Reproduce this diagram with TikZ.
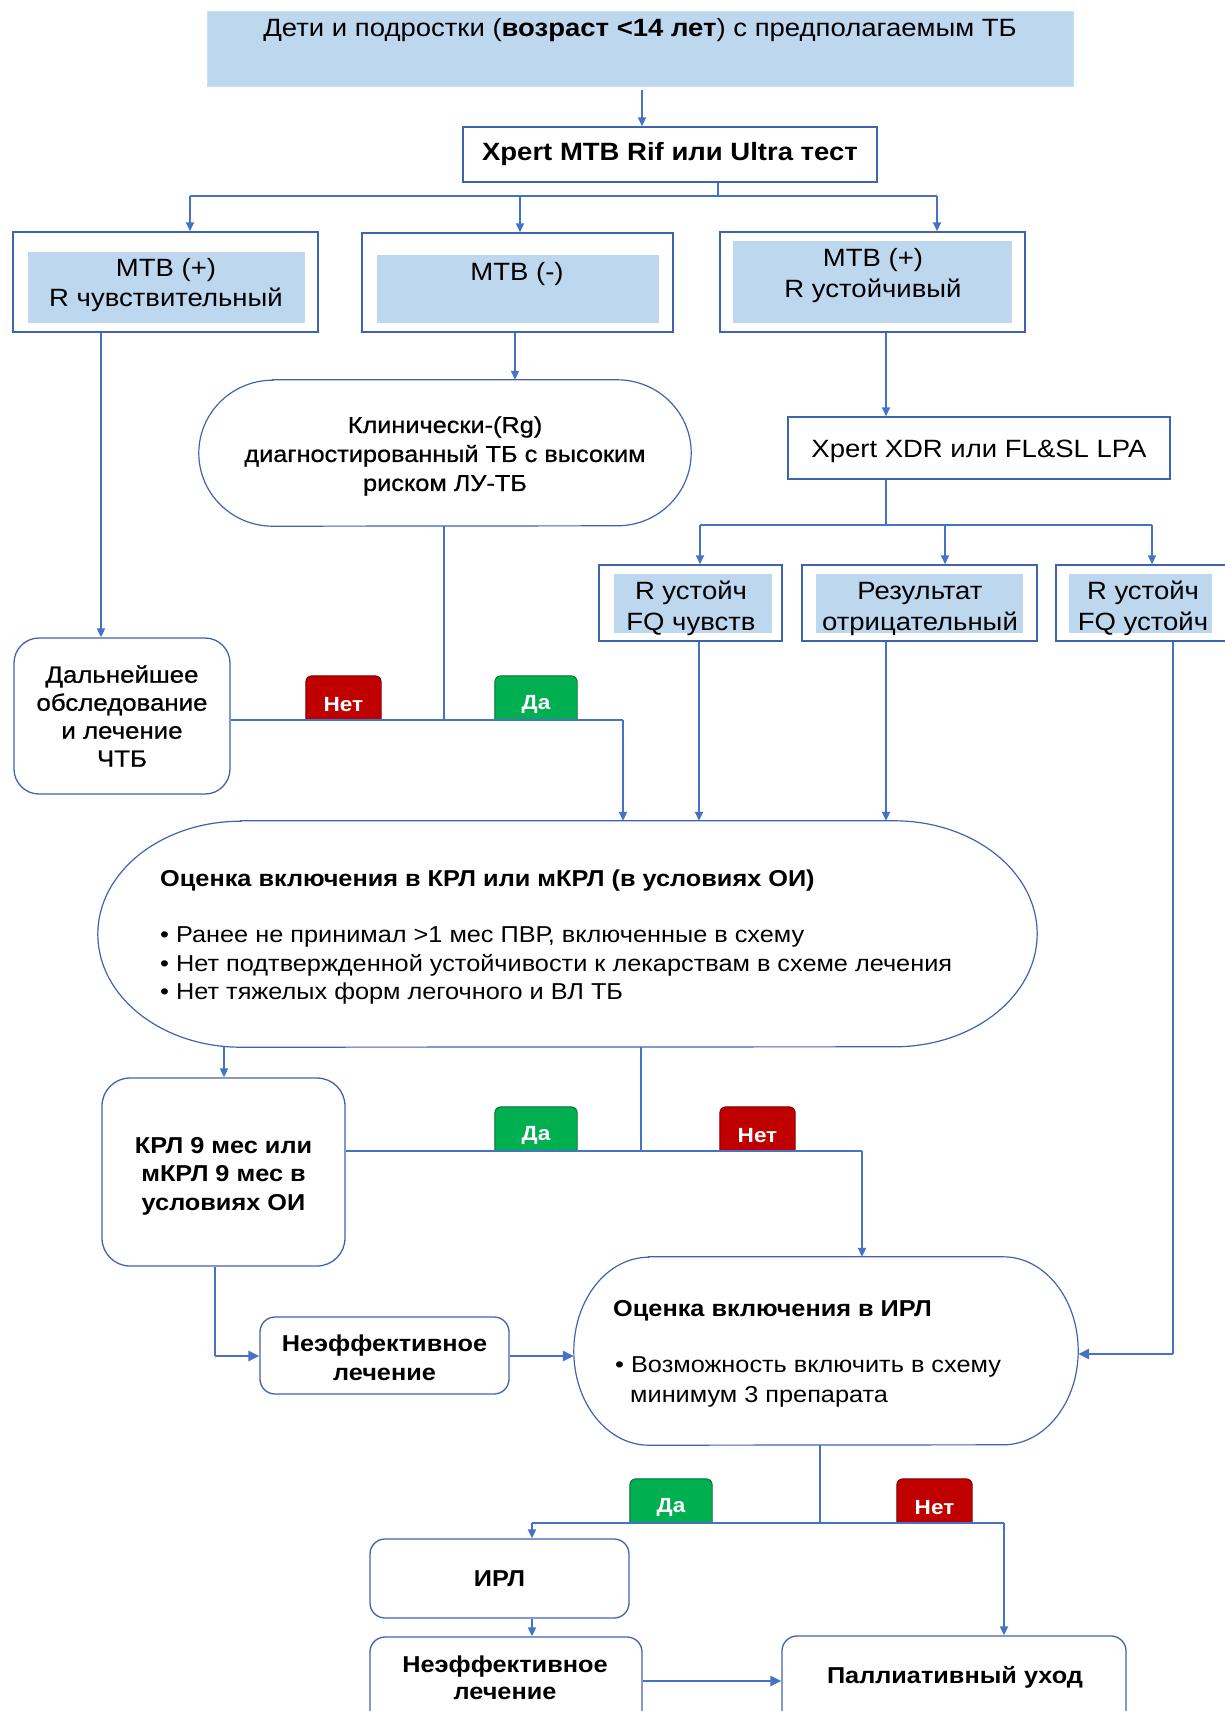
\documentclass[tikz,border=0pt]{standalone}
\usepackage{fontspec}
\setmainfont[FakeStretch=1.1]{Liberation Sans}
\newfontfamily\semib[FakeStretch=1.1,FakeBold=0.8]{Liberation Sans}
\usetikzlibrary{arrows.meta,backgrounds,calc}
\definecolor{lnc}{HTML}{4472C4}
\definecolor{bord}{HTML}{3E64B0}
\definecolor{fillb}{HTML}{BDD7EE}
\definecolor{grn}{HTML}{00B050}
\definecolor{red}{HTML}{C00000}
\newcommand{\fs}[2]{\fontsize{#1}{#2}\selectfont}
\newcommand{\stadoutline}[3]{%
  \draw[stadline] ($(#1.north west)+(#2,0)$) -- ($(#1.north east)+(-#2,0)$)
    arc[start angle=90,end angle=-90,x radius=#2pt,y radius=#3pt]
    -- ($(#1.south west)+(#2,0)$)
    arc[start angle=270,end angle=90,x radius=#2pt,y radius=#3pt] -- cycle;}
\begin{document}
\begin{tikzpicture}[x=1pt,y=-1pt,
  conn/.style={draw=lnc,line width=1.8pt},
  hconn/.style={draw=lnc,line width=2.8pt},
  arr/.style={conn,-{Triangle[length=9pt,width=8pt]}},
  harr/.style={hconn,-{Triangle[length=11pt,width=10pt]}},
  outerbox/.style={draw=bord,line width=1.5pt,fill=white,inner sep=0pt},
  innerbox/.style={fill=fillb,inner sep=0pt},
  rbox/.style={draw=bord,line width=1.3pt,fill=white,inner sep=0pt,rounded corners=#1},
  stadline/.style={draw=bord,line width=1.2pt},
  stad/.style={inner sep=0pt},
  tag/.style={inner sep=0pt,text=white,font=\fs{20.5}{22}\bfseries},
  txt/.style={inner sep=0pt,text=black},
]
\clip (0,0) rectangle (1225,1711);

% ---------- top ----------
\node[fill=fillb,draw=fillb!80!white,inner sep=0pt,minimum width=866pt,minimum height=75pt] (top) at (640,48.5) {};
\node[txt,font=\fs{25}{28}] (toptxt) at (640,30) {Дети и подростки (\textbf{возраст <14 лет}) с предполагаемым ТБ};

\node[outerbox,minimum width=414pt,minimum height=55pt,font=\fs{25}{26}\bfseries] (xpert) at (670,154.5) {Xpert MTB Rif или Ultra тест};

% ---------- three result boxes ----------
\node[outerbox,minimum width=305pt,minimum height=100pt] (lbo) at (165.5,282) {};
\node[innerbox,minimum width=277pt,minimum height=71pt] (lbi) at (166.5,287.5) {};
\node[txt,align=center,font=\fs{25}{30}] (lbt) at (166,285) {МТВ (+)\\R чувствительный};

\node[outerbox,minimum width=311pt,minimum height=99pt] (mbo) at (517.5,282.5) {};
\node[innerbox,minimum width=282pt,minimum height=68pt] (mbi) at (518,289) {};
\node[txt,font=\fs{25}{30}] (mbt) at (517,274) {МТВ (-)};

\node[outerbox,minimum width=305pt,minimum height=100pt] (rbo) at (872.5,282) {};
\node[innerbox,minimum width=279pt,minimum height=82pt] (rbi) at (872.5,282) {};
\node[txt,align=center,font=\fs{25}{31}] (rbt) at (873,275.5) {МТВ (+)\\R устойчивый};

% ---------- left / middle ----------
\node[rbox=25pt,minimum width=216pt,minimum height=156pt,align=center,font=\semib\fs{23.5}{28}] (dal) at (122,716) {Дальнейшее\\обследование\\и лечение\\ЧТБ};

\node[stad,minimum width=492pt,minimum height=146pt] (clin) at (445,453) {};
\stadoutline{clin}{74}{73}
\node[txt,align=center,font=\semib\fs{23}{29}] (clint) at (445,456) {Клинически-(Rg)\\диагностированный ТБ с высоким\\риском ЛУ-ТБ};

% ---------- right ----------
\node[outerbox,minimum width=382pt,minimum height=62pt] (xdr) at (979,448) {};
\node[txt,font=\fs{25}{26}] (xdrt) at (979,451) {Xpert XDR или FL\&SL LPA};

\node[outerbox,minimum width=183pt,minimum height=76pt] (sa) at (690.5,603) {};
\node[innerbox,minimum width=158pt,minimum height=59pt] (sai) at (693,603.5) {};
\node[txt,align=center,font=\fs{25}{31}] (sat) at (691,608.5) {R устойч\\FQ чувств};

\node[outerbox,minimum width=235pt,minimum height=76pt] (sb) at (919.5,603) {};
\node[innerbox,minimum width=207pt,minimum height=59pt] (sbi) at (919.5,603.5) {};
\node[txt,align=center,font=\fs{25}{31}] (sbt) at (920,608.5) {Результат\\отрицательный};

\node[outerbox,minimum width=184pt,minimum height=76pt] (sc) at (1148,603) {};
\node[innerbox,minimum width=143pt,minimum height=59pt] (sci) at (1140.5,603.5) {};
\node[txt,align=center,font=\fs{25}{31}] (sct) at (1143,608.5) {R устойч\\FQ устойч};

% ---------- big evaluation ----------
\node[stad,minimum width=939pt,minimum height=226pt] (big) at (567.5,934) {};
\stadoutline{big}{143}{113}
\node[txt,anchor=base west,font=\fs{23}{24}\bfseries] (bigt) at (160,886) {Оценка включения в КРЛ или мКРЛ (в условиях ОИ)};
\node[txt,anchor=base west,font=\fs{23}{24}] (bb1) at (160,942.5) {• Ранее не принимал >1 мес ПВР, включенные в схему};
\node[txt,anchor=base west,font=\fs{23}{24}] (bb2) at (160,971) {• Нет подтвержденной устойчивости к лекарствам в схеме лечения};
\node[txt,anchor=base west,font=\fs{23}{24}] (bb3) at (160,999.5) {• Нет тяжелых форм легочного и ВЛ ТБ};

\node[rbox=28pt,minimum width=243pt,minimum height=188pt] (krl) at (223.5,1172) {};
\node[txt,align=center,font=\fs{23}{28.5}\bfseries] (krlt) at (223.5,1176) {КРЛ 9 мес или\\мКРЛ 9 мес в\\условиях ОИ};

\node[rbox=15pt,minimum width=249pt,minimum height=77pt] (ne1) at (384.5,1355.5) {};
\node[txt,align=center,font=\fs{23}{28.5}\bfseries] (ne1t) at (384.5,1358) {Неэффективное\\лечение};

% ---------- IRL evaluation ----------
\node[stad,minimum width=504pt,minimum height=188pt] (irl) at (826,1351) {};
\stadoutline{irl}{75}{94}
\node[txt,anchor=base west,font=\fs{23}{24}\bfseries] (irlt) at (613,1316) {Оценка включения в ИРЛ};
\node[txt,anchor=base west,font=\fs{23}{24}] (ib1) at (615,1372) {• Возможность включить в схему};
\node[txt,anchor=base west,font=\fs{23}{24}] (ib2) at (630,1402) {минимум 3 препарата};

\node[rbox=15pt,minimum width=259pt,minimum height=79pt,font=\fs{23}{26}\bfseries] (irlbox) at (499.5,1578.5) {ИРЛ};
\node[rbox=15pt,minimum width=272pt,minimum height=94pt] (ne2) at (506,1684) {};
\node[txt,align=center,font=\fs{23}{27}\bfseries] (ne2t) at (505,1678) {Неэффективное\\лечение};
\node[rbox=15pt,minimum width=344pt,minimum height=96pt] (pal) at (954,1684) {};
\node[txt,font=\fs{23}{26}\bfseries] (palt) at (955,1677.5) {Паллиативный уход};

% ---------- tags ----------
\newcommand{\tagnode}[5]{%
  \node[tag,minimum width=#4pt,minimum height=44pt] (#1) at (#2,#3) {};
  \node[tag] (#1t) at ($(#1.center)+(0,6.5)$) {#5};}
\tagnode{net1}{343.5}{698}{75}{Нет}
\tagnode{da1}{536}{698}{82}{Да}
\tagnode{da2}{536}{1129}{82}{Да}
\tagnode{net2}{757.5}{1129}{75}{Нет}
\tagnode{da3}{671}{1501}{82}{Да}
\tagnode{net3}{934.5}{1501}{75}{Нет}
\begin{scope}[on background layer]
\fill[white] (0,0) rectangle (1225,1711);
\foreach \t/\c in {net1/red,da1/grn,da2/grn,net2/red,da3/grn,net3/red}{
  \fill[\c,rounded corners=6pt] (\t.south west) -- (\t.north west) -- (\t.north east) [sharp corners] -- (\t.south east) -- cycle;
  \draw[\c!65!black,line width=0.9pt,rounded corners=6pt] (\t.south west) -- (\t.north west) -- (\t.north east) -- (\t.south east);
}
\end{scope}

% ---------- connectors ----------
\coordinate (c0) at (642,90);
\draw[arr] (c0) -- (c0 |- xpert.north);

\coordinate (b0) at (718,196);
\coordinate (bL) at (190,196);
\coordinate (bM) at (520,196);
\coordinate (bR) at (937,196);
\draw[conn] (b0 |- xpert.south) -- (b0);
\draw[hconn] (bL) -- (bR);
\draw[arr] (bL) -- (bL |- lbo.north);
\draw[arr] (bM) -- (bM |- mbo.north);
\draw[arr] (bR) -- (bR |- rbo.north);

\coordinate (cL) at (101,0);
\draw[arr] (lbo.south -| cL) -- (dal.north -| cL);
\coordinate (cM) at (515,0);
\draw[arr] (mbo.south -| cM) -- (clin.north -| cM);

\coordinate (j1) at (444,720);
\coordinate (j1r) at (623,720);
\draw[conn] (clin.south -| j1) -- (j1);
\draw[hconn] (dal.east |- j1) -- (j1r);
\draw[arr] (j1r) -- (j1r |- big.north);

\coordinate (cR) at (886,0);
\draw[arr] (rbo.south -| cR) -- (xdr.north -| cR);
\coordinate (x0) at (886,525);
\coordinate (xA) at (700,525);
\coordinate (xB) at (945,525);
\coordinate (xC) at (1152,525);
\draw[conn] (xdr.south -| x0) -- (x0);
\draw[hconn] (xA) -- (xC);
\draw[arr] (xA) -- (xA |- sa.north);
\draw[arr] (xB) -- (xB |- sb.north);
\draw[arr] (xC) -- (xC |- sc.north);

\coordinate (sA) at (699,0);
\coordinate (sB) at (886,0);
\draw[arr] (sa.south -| sA) -- (big.north -| sA);
\draw[arr] (sb.south -| sB) -- (big.north -| sB);
\coordinate (sC) at (1173,1354);
\draw[conn] (sc.south -| sC) -- (sC);
\draw[harr] (sC) -- (irl.east |- sC);

\coordinate (k0) at (224,0);
\draw[arr] (big.south -| k0) -- (krl.north -| k0);
\coordinate (j2) at (641,1151);
\coordinate (j2r) at (862,1151);
\draw[conn] (big.south -| j2) -- (j2);
\draw[hconn] (krl.east |- j2) -- (j2r);
\draw[arr] (j2r) -- (j2r |- irl.north);

\coordinate (k1) at (215,1356);
\draw[conn] (krl.south -| k1) -- (k1);
\draw[harr] (k1) -- (ne1.west |- k1);
\draw[harr] (ne1.east |- k1) -- (irl.west |- k1);

\coordinate (j3) at (820,1523);
\coordinate (j3l) at (532,1523);
\coordinate (j3r) at (1004,1523);
\draw[conn] (irl.south -| j3) -- (j3);
\draw[hconn] (j3l) -- (j3r);
\draw[arr] (j3l) -- (j3l |- irlbox.north);
\draw[arr] (j3r) -- (j3r |- pal.north);
\coordinate (k2) at (532,0);
\draw[arr] (irlbox.south -| k2) -- (ne2.north -| k2);
\coordinate (k3) at (0,1681);
\draw[harr] (ne2.east |- k3) -- (pal.west |- k3);
\end{tikzpicture}
\end{document}
